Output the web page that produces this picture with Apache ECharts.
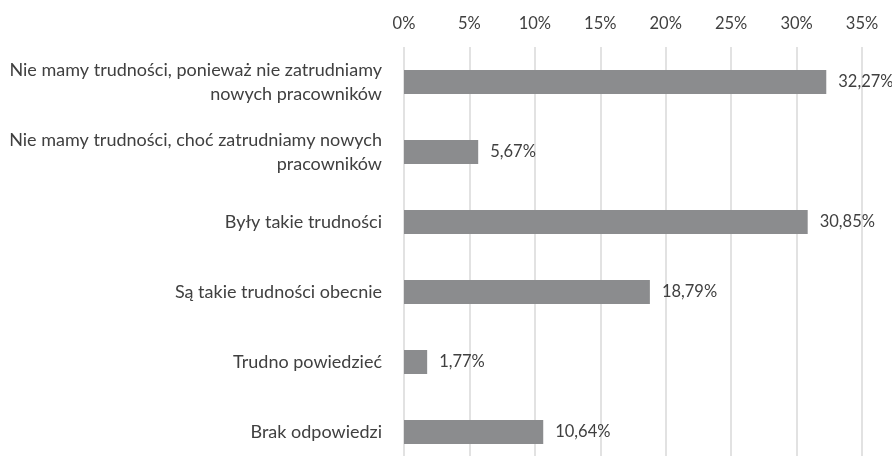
<!doctype html>
<html>
<head>
  <meta charset="utf-8">
  <title>Trudności</title>
  <script src="https://cdn.jsdelivr.net/npm/echarts@6/dist/echarts.min.js"></script>
  <style>
    html, body { margin: 0; padding: 0; background: #fff; overflow: hidden; }
    /* wykres jest przycięty u dołu, jak w oryginale */
    #chart { width: 892px; height: 470px; }
  </style>
</head>
<body>
<div id="chart"></div>
<script type="text/javascript">
  // dane
  var categories = [
    'Nie mamy trudności, ponieważ nie zatrudniamy\nnowych pracowników',
    'Nie mamy trudności, choć zatrudniamy nowych\npracowników',
    'Były takie trudności',
    'Są takie trudności obecnie',
    'Trudno powiedzieć',
    'Brak odpowiedzi'
  ];
  var values = [32.27, 5.67, 30.85, 18.79, 1.77, 10.64];
  var ticks = [0, 5, 10, 15, 20, 25, 30, 35];

  var chart = echarts.init(document.getElementById('chart'));
  var font = 'Lato';

  var option = {
    animation: false,
    grid: { left: 404, width: 458, top: 47, height: 420 },
    xAxis: {
      type: 'value',
      position: 'top',
      min: ticks[0],
      max: ticks[ticks.length - 1],
      interval: 5,
      axisLine: { show: false },
      axisTick: { show: false },
      axisLabel: {
        margin: 15,
        color: '#404040',
        fontFamily: font,
        fontSize: 16.5,
        formatter: function (v) { return v + '%'; }
      },
      splitLine: { lineStyle: { color: '#d9d9d9', width: 1.5 } }
    },
    yAxis: {
      type: 'category',
      inverse: true,
      data: categories,
      axisLine: { show: false },
      axisTick: { show: false },
      axisLabel: {
        margin: 22,
        color: '#404040',
        fontFamily: font,
        fontSize: 18,
        lineHeight: 24,
        align: 'right'
      }
    },
    series: [{
      type: 'bar',
      data: values,
      barWidth: 24,
      itemStyle: { color: '#8b8c8e' },
      label: {
        show: true,
        position: 'right',
        distance: 12,
        color: '#404040',
        fontFamily: font,
        fontSize: 16.5,
        formatter: function (p) { return p.value.toFixed(2).replace('.', ',') + '%'; }
      }
    }]
  };
  chart.setOption(option);
</script>
</body>
</html>
